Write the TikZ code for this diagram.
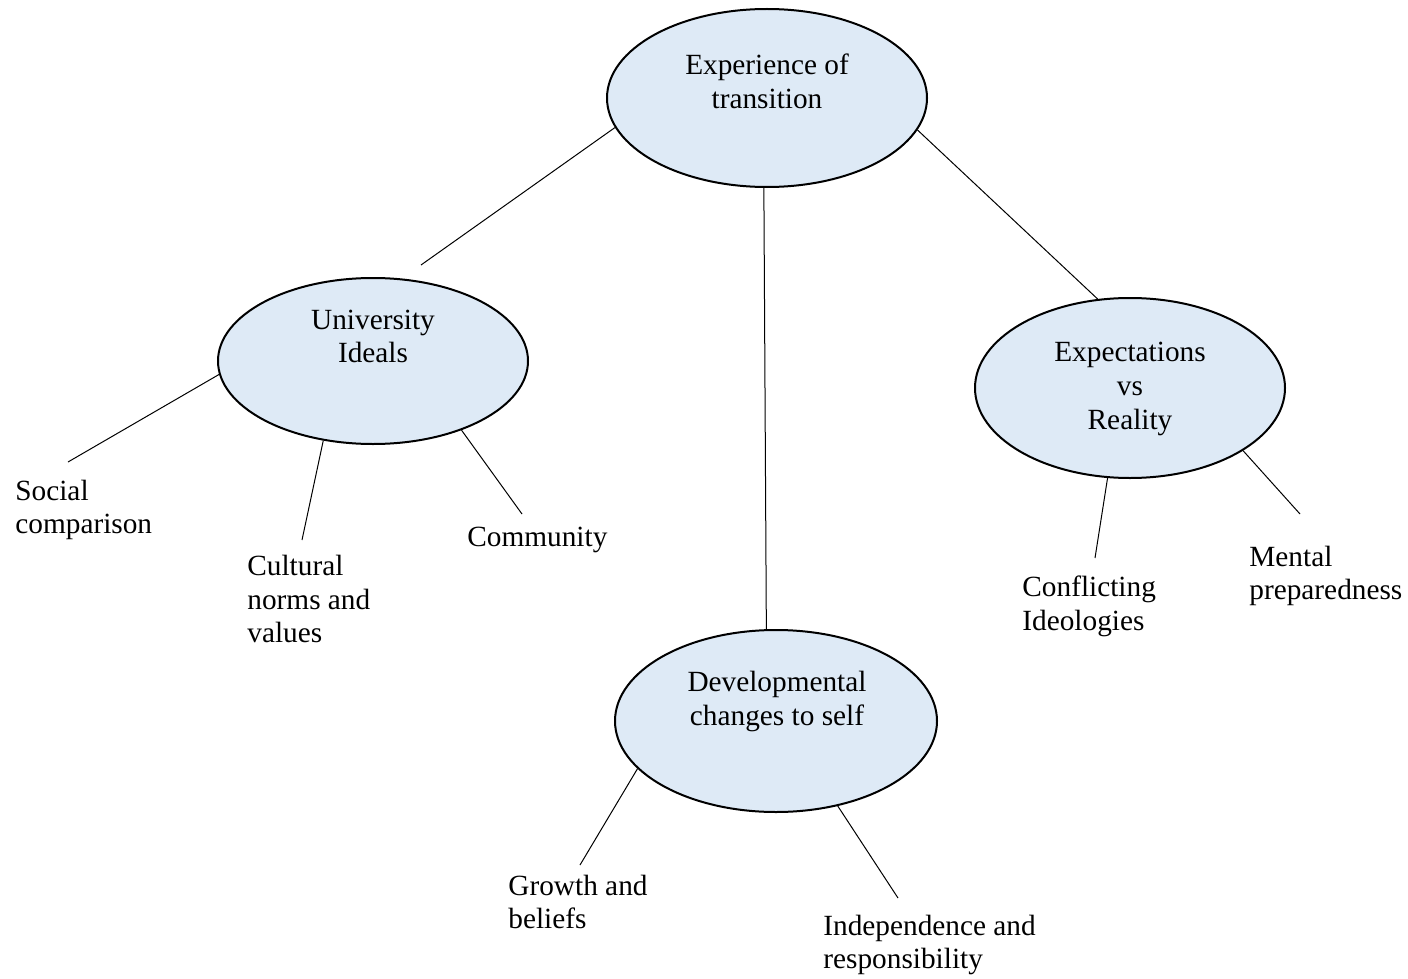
\documentclass[tikz,border=0pt]{standalone}
\usepackage{fontspec}
\setmainfont{Liberation Serif}
\usetikzlibrary{shapes.geometric}

\definecolor{bubblue}{RGB}{222,234,246}

\begin{document}
\begin{tikzpicture}
		[x=0.5pt, y=-0.5pt,
		font=\fontsize{14.65}{16.85}\selectfont,
		bub/.style = {draw=black, ellipse, fill=bubblue, line width=1pt, inner sep=0pt},
		btxt/.style = {align=center, inner sep=0pt},
		lab/.style = {align=left, anchor=west, inner sep=0pt},
		ln/.style = {draw=black, line width=0.5pt}]

		\useasboundingbox (0,0) rectangle (1408,979);

		\foreach \x/\y/\rx/\ry/\alph in {
			767/98/160/89/top,
			373/361/155/83/ui,
			1130/388/155/90/evr,
			776/721/161/91/dev}{
			\node[bub, minimum width=\rx*1pt, minimum height=\ry*1pt] (\alph) at (\x,\y) {};
		}
		\foreach \x/\y/\alph/\name in {
			767/81.5/top-t/{Experience of\\transition},
			373/336.5/ui-t/{University\\Ideals},
			1130/389/evr-t/{Expectations\\vs\\Reality},
			777/701.5/dev-t/{Developmental\\changes to self}}{
			\node[btxt] (\alph) at (\x,\y) {\name};
		}

		\foreach \x/\y/\alph/\name in {
			15/510/sc/{Social\\comparison},
			247/599/cn/{Cultural\\norms and\\values},
			467/540/cm/{Community},
			1022/606/ci/{Conflicting\\Ideologies},
			1249/576/mp/{Mental\\preparedness},
			508/902/gb/{Growth and\\beliefs},
			823/945/ir/{Independence and\\responsibility}}{
			\node[lab] (\alph) at (\x,\y) {\name};
		}

		% free ends of the connectors
		\coordinate (ui-in) at (421,265);
		\coordinate (sc-in) at (68,462);
		\coordinate (cn-in) at (302,540);
		\coordinate (cm-in) at (522,514);
		\coordinate (ci-in) at (1095,558);
		\coordinate (mp-in) at (1300,514);
		\coordinate (gb-in) at (580,865);
		\coordinate (ir-in) at (898,898);

		\foreach \source/\target in {
			top.191/ui-in,
			top.268/dev.96,
			top.348/evr.110,
			ui.185/sc-in,
			ui.238/cn-in,
			ui.322/cm-in,
			evr.256/ci-in,
			evr.331/mp-in,
			dev.199/gb-in,
			dev.306/ir-in}{
			\draw[ln] (\source) edge (\target);
		}
	\end{tikzpicture}
\end{document}
